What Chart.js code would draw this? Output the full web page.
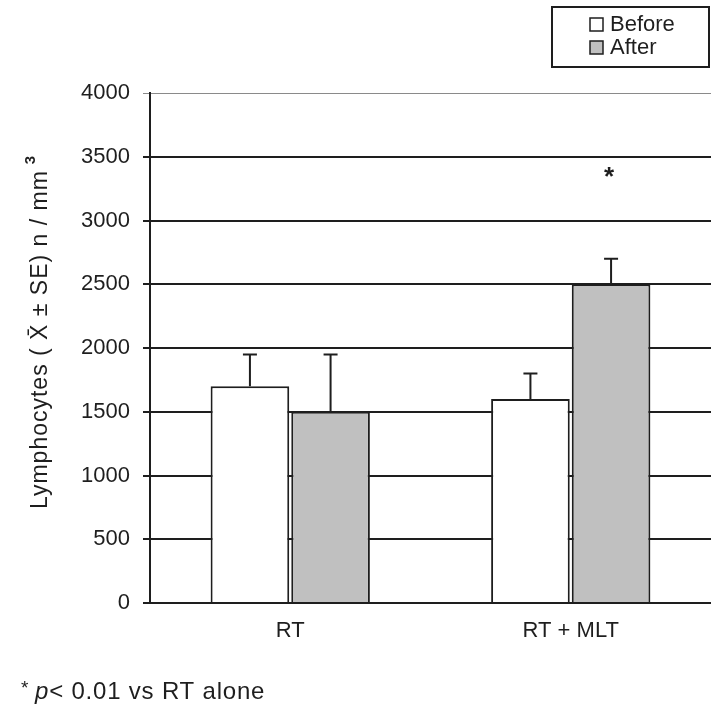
<!DOCTYPE html>
<html>
<head>
<meta charset="utf-8">
<script src="https://cdn.jsdelivr.net/npm/chart.js@4/dist/chart.umd.min.js"></script>
<style>
html, body { margin: 0; padding: 0; background: #fff; }
</style>
</head>
<body>
<canvas id="myChart" width="711" height="724"></canvas>
<script>
// data
const groups = ["RT", "RT + MLT"];
const beforeMeans = [1700, 1600];
const beforeSE = [250, 200];
const afterMeans = [1500, 2500];
const afterSE = [450, 200];
const afterMarks = ["", "*"];
const yTickValues = [0, 500, 1000, 1500, 2000, 2500, 3000, 3500, 4000];
const yTitle = "Lymphocytes ( X\u0304 \u00b1 SE) n / mm";
const footnote = ["*", "p", "< 0.01 vs RT alone"];

const ink = "#1e1e1e";
const fontFamily = "'Liberation Sans', Arial, sans-serif";

// error bars (upper half only) + significance star
const errorBars = {
    id: "errorBars",
    afterDatasetsDraw(chart) {
        const ctx = chart.ctx;
        const yScale = chart.scales.y;
        ctx.save();
        ctx.strokeStyle = ink;
        ctx.lineWidth = 2;
        chart.data.datasets.forEach(function (ds, i) {
            const meta = chart.getDatasetMeta(i);
            meta.data.forEach(function (bar, j) {
                const topY = yScale.getPixelForValue(ds.data[j] + ds.se[j]);
                ctx.beginPath();
                ctx.moveTo(bar.x, bar.y);
                ctx.lineTo(bar.x, topY);
                ctx.moveTo(bar.x - 7, topY);
                ctx.lineTo(bar.x + 7, topY);
                ctx.stroke();
                if (ds.marks && ds.marks[j]) {
                    ctx.fillStyle = ink;
                    ctx.font = "bold 26px " + fontFamily;
                    ctx.textAlign = "center";
                    ctx.textBaseline = "middle";
                    ctx.fillText(ds.marks[j], bar.x - 2, topY - 81);
                }
            });
        });
        ctx.restore();
    },
};

// y title, boxed legend in the top-right corner and the footnote
const extras = {
    id: "extras",
    afterDraw(chart) {
        const ctx = chart.ctx;
        ctx.save();

        // rotated y axis title with a separate superscript
        ctx.save();
        ctx.translate(47, 509);
        ctx.rotate(-Math.PI / 2);
        ctx.fillStyle = ink;
        ctx.font = "23px " + fontFamily;
        ctx.letterSpacing = "1px";
        ctx.textAlign = "left";
        ctx.textBaseline = "alphabetic";
        ctx.fillText(yTitle, 0, 0);
        const w = ctx.measureText(yTitle).width;
        ctx.font = "bold 15px " + fontFamily;
        ctx.fillText("3", w + 6, -12);
        ctx.restore();

        // legend
        ctx.strokeStyle = ink;
        ctx.lineWidth = 2;
        ctx.strokeRect(552, 7, 157, 60);
        ctx.font = "22px " + fontFamily;
        ctx.textBaseline = "middle";
        ctx.textAlign = "left";
        chart.data.datasets.forEach(function (ds, i) {
            const cy = 24 + i * 23;
            ctx.fillStyle = ds.backgroundColor;
            ctx.fillRect(590, cy - 6, 13, 13);
            ctx.lineWidth = 1.5;
            ctx.strokeRect(590, cy - 6, 13, 13);
            ctx.fillStyle = ink;
            ctx.fillText(ds.label, 610, cy + 1);
        });

        // footnote
        ctx.textBaseline = "alphabetic";
        ctx.letterSpacing = "0.8px";
        ctx.font = "19px " + fontFamily;
        ctx.fillText(footnote[0], 21, 694);
        ctx.font = "italic 24px " + fontFamily;
        ctx.fillText(footnote[1], 35, 699);
        const x = 35 + ctx.measureText(footnote[1]).width;
        ctx.font = "24px " + fontFamily;
        ctx.fillText(footnote[2], x, 699);
        ctx.restore();
    },
};

const data = {
    labels: groups,
    datasets: [
        {
            label: "Before",
            data: beforeMeans,
            se: beforeSE,
            backgroundColor: "#ffffff",
            borderColor: ink,
            borderWidth: 2,
        },
        {
            label: "After",
            data: afterMeans,
            se: afterSE,
            marks: afterMarks,
            backgroundColor: "#c0c0c0",
            borderColor: ink,
            borderWidth: 2,
        },
    ],
};

const ctx = document.getElementById("myChart").getContext("2d");
const myChart = new Chart(ctx, {
    type: "bar",
    data: data,
    options: {
        responsive: false,
        animation: false,
        devicePixelRatio: 1,
        layout: { padding: { top: 93, right: -4, bottom: 72.6, left: 0 } },
        datasets: {
            bar: { categoryPercentage: 0.575, barPercentage: 0.975, borderSkipped: "bottom" },
        },
        plugins: {
            legend: { display: false },
            tooltip: { enabled: false },
        },
        scales: {
            x: {
                grid: { display: false },
                border: { display: true, color: ink, width: 2 },
                ticks: { color: ink, font: { family: fontFamily, size: 22 }, padding: 7 },
            },
            y: {
                min: 0,
                max: 4000,
                afterBuildTicks: function (scale) {
                    scale.ticks = yTickValues.map(function (v) { return { value: v }; });
                },
                afterFit: function (scale) { scale.width = 150; },
                grid: {
                    color: function (c) { return c.tick && c.tick.value === 4000 ? "#8a8a8a" : ink; },
                    lineWidth: function (c) { return c.tick && c.tick.value === 4000 ? 1 : 2; },
                    tickLength: 7,
                },
                border: { display: true, color: ink, width: 2 },
                ticks: {
                    color: ink,
                    font: { family: fontFamily, size: 22 },
                    padding: 13,
                    callback: function (v) { return String(v); },
                },
            },
        },
    },
    plugins: [errorBars, extras],
});
</script>
</body>
</html>
